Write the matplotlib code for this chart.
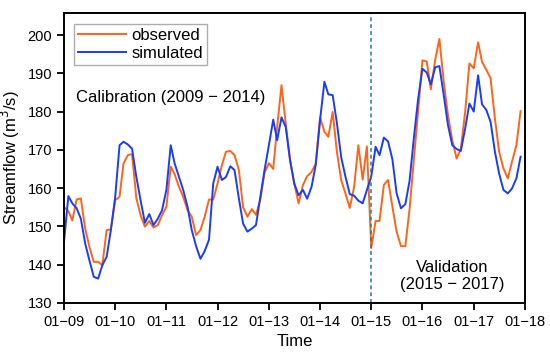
import matplotlib
matplotlib.use("Agg")
import matplotlib.pyplot as plt
import numpy as np
import pandas as pd

plt.rcParams['font.family'] = ['Liberation Sans', 'DejaVu Sans']

# monthly streamflow, Jan 2009 .. Dec 2017
observed = [155.0, 154.0, 151.5, 157.0, 157.3, 149.4, 144.6, 140.7, 140.7, 139.8, 149.0, 149.2,
            156.8, 157.7, 166.4, 168.6, 168.9, 157.3, 152.9, 149.9, 151.4, 149.7, 150.3, 152.9,
            155.1, 165.6, 163.6, 160.3, 157.7, 154.2, 152.5, 147.7, 149.0, 152.5, 157.0, 157.0,
            161.2, 166.0, 169.5, 169.7, 168.6, 164.7, 155.0, 152.5, 154.5, 153.0, 157.0, 164.0,
            166.5, 165.0, 176.0, 186.9, 176.9, 167.3, 161.2, 156.0, 160.8, 163.1, 164.2, 166.4,
            178.5, 174.7, 173.4, 179.9, 169.5, 162.0, 158.6, 154.8, 160.3, 171.2, 162.2, 170.9,
            144.3, 151.4, 151.4, 160.8, 162.1, 155.1, 148.6, 144.8, 144.8, 154.4, 167.5, 180.0,
            193.4, 193.1, 185.8, 193.5, 199.0, 187.8, 179.1, 172.5, 167.7, 170.3, 180.0, 192.6,
            191.3, 198.1, 193.0, 190.9, 188.7, 178.2, 169.5, 165.1, 162.5, 166.9, 171.2, 180.1]

simulated = [146.0, 157.9, 156.0, 154.7, 152.0, 145.5, 141.1, 136.8, 136.3, 139.8, 142.0, 149.0,
             157.7, 171.2, 172.1, 171.4, 170.3, 162.9, 156.8, 150.9, 153.2, 150.3, 152.0, 154.2,
             159.5, 171.2, 166.4, 162.9, 159.5, 155.1, 149.0, 144.8, 141.5, 143.5, 146.5, 161.2,
             165.6, 162.1, 162.9, 165.7, 164.7, 157.3, 150.7, 148.6, 149.4, 150.3, 157.7, 164.7,
             171.2, 177.9, 172.5, 178.5, 176.0, 167.3, 161.2, 158.1, 159.5, 157.2, 160.3, 166.0,
             177.8, 187.8, 184.5, 184.3, 177.0, 168.0, 163.0, 158.4, 158.0, 156.7, 156.0, 159.5,
             163.0, 170.8, 168.6, 173.2, 172.2, 167.5, 158.6, 154.7, 155.8, 161.8, 173.1, 183.2,
             191.2, 190.2, 187.1, 191.6, 191.9, 184.3, 176.5, 171.2, 170.2, 169.7, 175.6, 182.1,
             180.0, 189.5, 181.9, 180.4, 177.3, 169.5, 163.8, 159.5, 158.6, 159.9, 162.5, 168.2]

tick_years = list(range(2009, 2019))
tick_labels = ['01\u2212%02d' % (y % 100) for y in tick_years]
y_ticks = [130, 140, 150, 160, 170, 180, 190, 200]

dates = pd.date_range('2009-01-01', periods=len(observed), freq='MS')

fig = plt.figure(figsize=(5.5, 3.6), dpi=100)
ax = fig.add_axes([0.1164, 0.159, 0.838, 0.804])

ax.plot(dates, observed, color='#FF6418', lw=1.4, label='observed')
ax.plot(dates, simulated, color='#1A3CFF', lw=1.4, label='simulated')
ax.axvline(pd.Timestamp('2015-01-01'), color='#1C7F8C', lw=1.1, ls=(0, (2.5, 2)))

ax.set_xlim(pd.Timestamp('2009-01-01'), pd.Timestamp('2018-01-01'))
ax.set_ylim(130, 205.7)
ax.set_xticks([pd.Timestamp('%d-01-01' % y) for y in tick_years])
ax.set_xticklabels(tick_labels)
ax.set_yticks(y_ticks)

for s in ax.spines.values():
    s.set_linewidth(1.4)
ax.tick_params(direction='out', length=5, width=1.3, labelsize=10.5)

ax.set_xlabel('Time', fontsize=12)
ax.set_ylabel('Streamflow (m$^3$/s)', fontsize=12)

ax.text(0.025, 0.71, 'Calibration (2009 \u2212 2014)', transform=ax.transAxes,
        fontsize=12, ha='left', va='center')
ax.text(0.842, 0.092, 'Validation\n(2015 \u2212 2017)', transform=ax.transAxes,
        fontsize=12, ha='center', va='center', linespacing=1.15)

leg = ax.legend(loc='upper left', bbox_to_anchor=(0.01, 0.98), fontsize=12,
                handlelength=2.9, fancybox=False, edgecolor='#999999',
                borderpad=0.25, labelspacing=0.15, handletextpad=0.3, borderaxespad=0.3)
leg.get_frame().set_linewidth(1.0)

fig.savefig('out.png', dpi=100)
